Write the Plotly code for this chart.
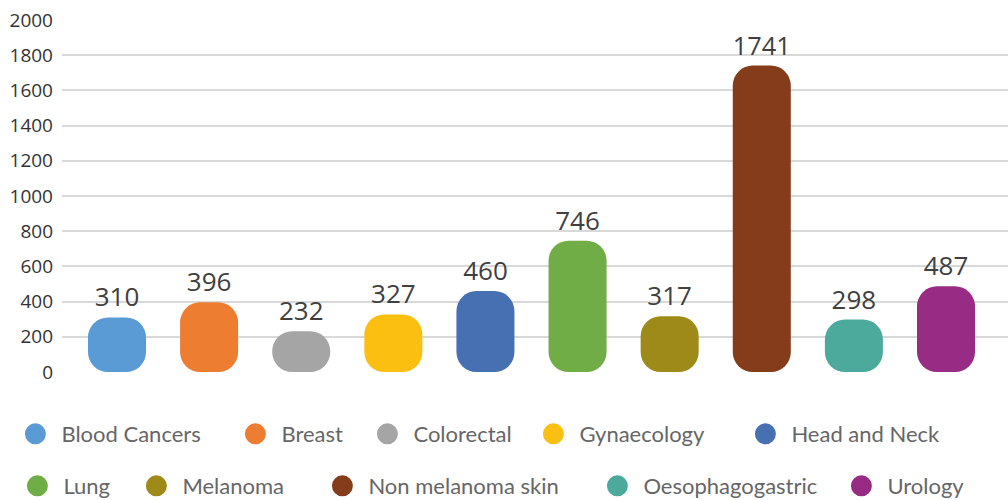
import plotly.graph_objects as go

categories = ["Blood Cancers", "Breast", "Colorectal", "Gynaecology", "Head and Neck",
              "Lung", "Melanoma", "Non melanoma skin", "Oesophagogastric", "Urology"]
values = [310, 396, 232, 327, 460, 746, 317, 1741, 298, 487]
colors = ["#5B9BD5", "#ED7D31", "#A5A5A5", "#FBBF12", "#4670B2",
          "#70AD47", "#9E8A18", "#843C1A", "#4BAA9C", "#982C84"]
y_ticks = [0, 200, 400, 600, 800, 1000, 1200, 1400, 1600, 1800, 2000]

# legend layout: pixel centre of each legend circle (x) and row (y)
legend_cx = [35, 255, 387, 553, 765, 37, 156, 342, 617, 861]
legend_cy = [434, 434, 434, 434, 434, 486, 486, 486, 486, 486]

W, H = 1008, 500
ML, MR, MT, MB = 62, 0, 20, 128
pw, ph = W - ML - MR, H - MT - MB
SYM_OFFSET = 25.6

fig = go.Figure()
layout_legends = {}
for i, (cat, v, c) in enumerate(zip(categories, values, colors)):
    fig.add_trace(go.Bar(x=[i], y=[v], base=[0], width=0.63,
                         marker=dict(color=c, cornerradius=20, line=dict(width=0)),
                         text=[str(v)], textposition="outside", cliponaxis=False,
                         textfont=dict(family="Open Sans", size=26, color="#404040"),
                         showlegend=False, name=cat))
    lname = "legend" if i == 0 else f"legend{i + 1}"
    fig.add_trace(go.Scatter(x=[None], y=[None], mode="markers", name=cat,
                             marker=dict(color=c, size=16, symbol="circle",
                                         line=dict(color=c, width=5)),
                             legend=lname))
    layout_legends[lname] = dict(
        orientation="h", xanchor="left", yanchor="middle",
        x=(legend_cx[i] - SYM_OFFSET - ML) / pw,
        y=(H - MB - legend_cy[i]) / ph,
        itemwidth=42,
        font=dict(family="Lato", size=22, color="#666666"),
        bgcolor="rgba(0,0,0,0)")

fig.update_layout(
    width=W, height=H,
    margin=dict(l=ML, r=MR, t=MT, b=MB, autoexpand=False),
    plot_bgcolor="white", paper_bgcolor="white",
    barmode="overlay",
    xaxis=dict(range=[-0.597, 9.673], showticklabels=False, showgrid=False,
               zeroline=False, showline=False, fixedrange=True),
    yaxis=dict(range=[0, 2000], tickvals=y_ticks, showgrid=True, gridcolor="#D9D9D9",
               gridwidth=2, zeroline=False, showline=False, ticklabelstandoff=8,
               tickfont=dict(family="Open Sans", size=19, color="#333333")),
    **layout_legends,
)

fig.write_html("out.html", config={"displayModeBar": False},
               post_script="document.body.style.margin='0';")
